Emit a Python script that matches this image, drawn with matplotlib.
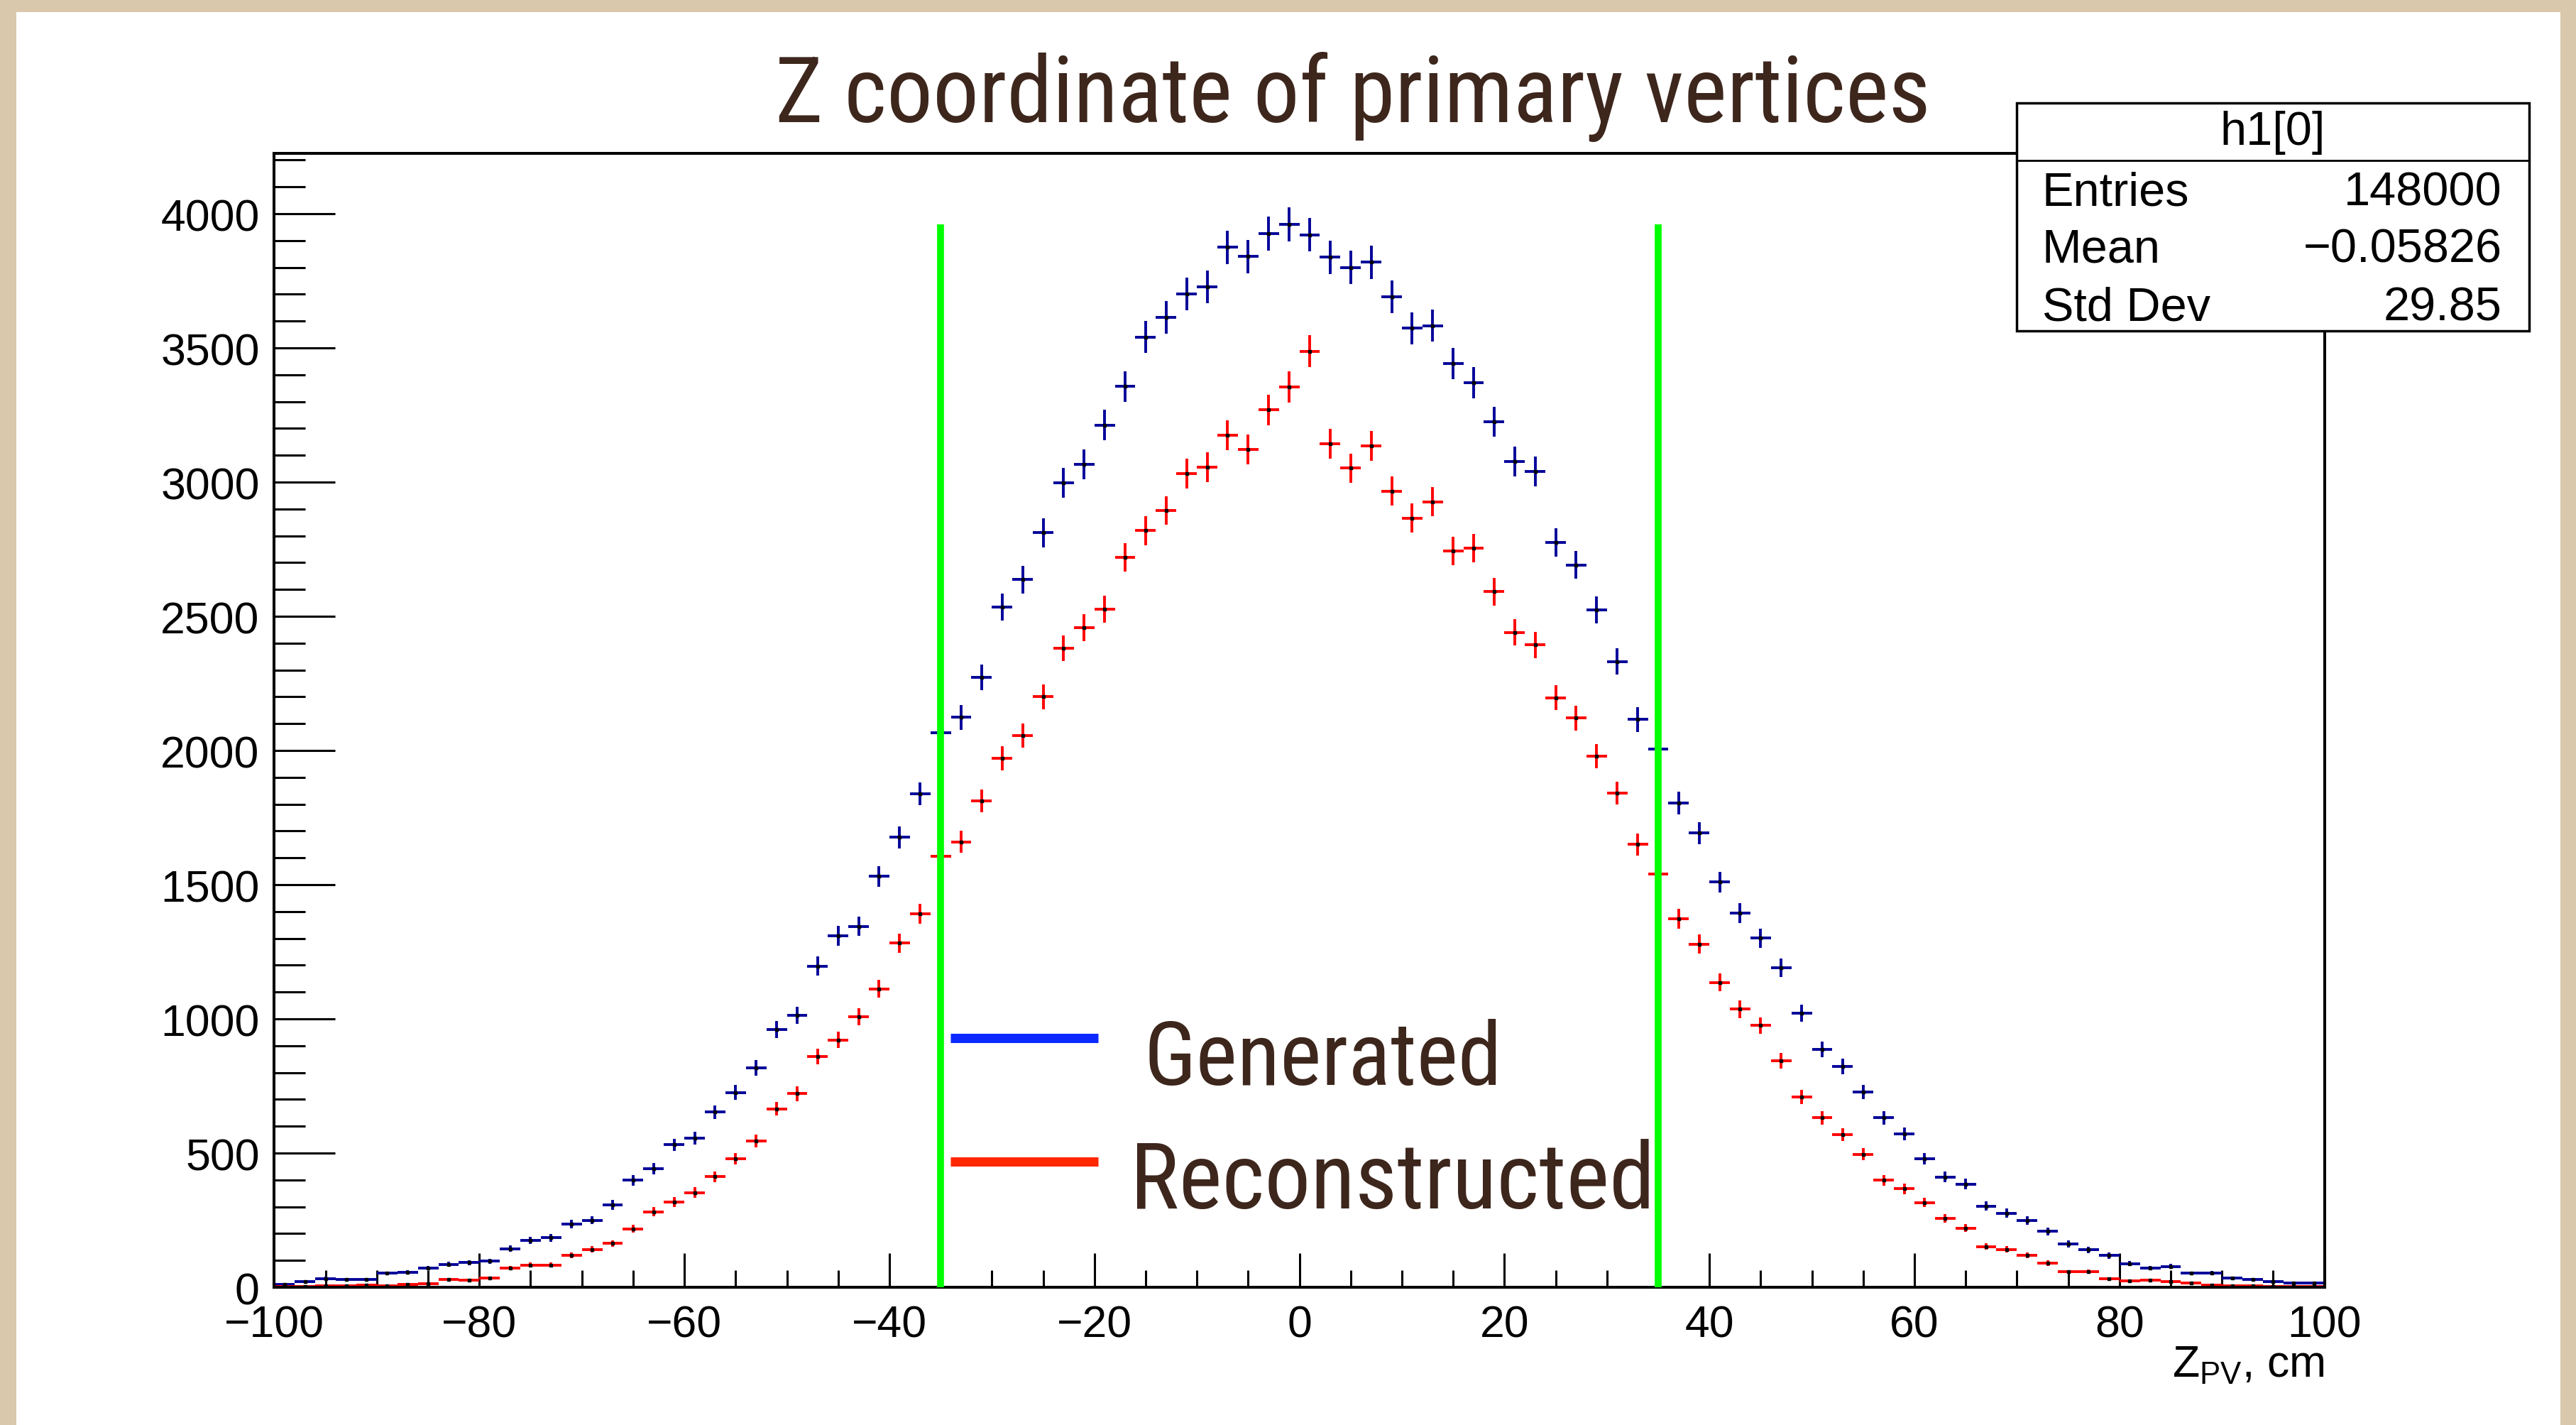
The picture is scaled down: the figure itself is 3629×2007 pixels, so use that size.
import numpy as np
import matplotlib
matplotlib.use('Agg')
import matplotlib.pyplot as plt
from matplotlib import font_manager
from matplotlib.patches import Rectangle
from matplotlib.lines import Line2D
from matplotlib.ticker import MultipleLocator

plt.rcParams['font.family'] = ['Liberation Sans', 'DejaVu Sans']
plt.rcParams['mathtext.fontset'] = 'custom'
plt.rcParams['mathtext.rm'] = 'Liberation Sans'

# bin centres of the 2 cm bins, -100..100 cm
z_centers = np.arange(-99, 100, 2)

generated = [11, 21, 33, 30, 28, 52, 55, 71, 86, 92,
             97, 143, 175, 184, 235, 250, 307, 399, 441, 531,
             555, 653, 726, 817, 960, 1014, 1197, 1310, 1345, 1531,
             1676, 1839, 2065, 2124, 2273, 2534, 2637, 2811, 2997, 3066,
             3213, 3356, 3541, 3614, 3700, 3727, 3875, 3841, 3926, 3961,
             3922, 3838, 3800, 3819, 3690, 3573, 3583, 3442, 3371, 3225,
             3077, 3040, 2776, 2691, 2523, 2332, 2116, 2006, 1804, 1693,
             1510, 1394, 1301, 1191, 1021, 886, 822, 727, 632, 571,
             479, 411, 384, 302, 276, 249, 208, 162, 140, 118,
             88, 72, 78, 52, 53, 35, 30, 21, 17, 15]

reconstructed = [3, 3, 4, 6, 7, 6, 10, 12, 28, 26,
                 34, 71, 83, 83, 119, 141, 163, 218, 281, 318,
                 353, 412, 479, 545, 665, 721, 859, 921, 1007, 1112,
                 1282, 1392, 1605, 1660, 1812, 1971, 2055, 2200, 2381, 2458,
                 2526, 2720, 2819, 2894, 3032, 3055, 3175, 3122, 3269, 3354,
                 3488, 3143, 3052, 3135, 2967, 2866, 2927, 2743, 2754, 2592,
                 2440, 2394, 2197, 2121, 1979, 1841, 1650, 1541, 1374, 1279,
                 1136, 1036, 975, 844, 709, 631, 569, 496, 399, 367,
                 316, 257, 220, 152, 141, 119, 90, 57, 59, 31,
                 24, 26, 22, 16, 9, 6, 4, 3, 3, 2]

cut_z = [-35, 35]
cut_top = 3960

title = 'Z coordinate of primary vertices'
legend_labels = ['Generated', 'Reconstructed']
stats_name = 'h1[0]'
stats_labels = ['Entries', 'Mean', 'Std Dev']
stats_values = ['148000', '\u22120.05826', '29.85']

W, H = 3630, 2008
brown = '#3d261c'

# no handwriting font here, take the narrowest installed one
installed = set(f.name for f in font_manager.fontManager.ttflist)
hand_font = 'Liberation Sans'
for name in ['Roboto Condensed', 'Open Sans Condensed', 'Liberation Sans Narrow', 'DejaVu Sans Condensed']:
    if name in installed:
        hand_font = name
        break


def fx(px):
    return px / W


def fy(py):
    return 1 - py / H


fig = plt.figure(figsize=(W / 100, H / 100), dpi=100, facecolor='#d9c8ab')
fig.add_artist(Rectangle((fx(23), 0), fx(3607 - 23), 1 - 18 / H, transform=fig.transFigure,
                         facecolor='white', edgecolor='none', zorder=-1))

ax = fig.add_axes([0.10647, 0.09661, 0.79562, 0.79532])

gen = np.array(generated)
rec = np.array(reconstructed)
ax.errorbar(z_centers, gen, xerr=1, yerr=np.sqrt(gen), fmt='s', ms=3.5, mfc='black', mec='black',
            ecolor='#000099', elinewidth=2.8, capsize=0, zorder=2)
ax.errorbar(z_centers, rec, xerr=1, yerr=np.sqrt(rec), fmt='s', ms=3.5, mfc='black', mec='black',
            ecolor='#ff0000', elinewidth=2.8, capsize=0, zorder=2)

ax.vlines(cut_z, 0, cut_top, colors='#00ff00', lw=7, zorder=3)

ax.set_xlim(-100, 100)
ax.set_ylim(0, 4225)
ax.xaxis.set_major_locator(MultipleLocator(20))
ax.xaxis.set_minor_locator(MultipleLocator(5))
ax.yaxis.set_major_locator(MultipleLocator(500))
ax.yaxis.set_minor_locator(MultipleLocator(100))
ax.tick_params(which='both', direction='in', top=False, right=False, width=2.2, labelsize=45)
ax.tick_params(axis='y', which='major', length=62, pad=15)
ax.tick_params(axis='y', which='minor', length=32)
ax.tick_params(axis='x', which='major', length=34.5, pad=17)
ax.tick_params(axis='x', which='minor', length=17)
for s in ax.spines.values():
    s.set_linewidth(2.9)

ax.text(1.0, -0.0789, r'Z$_{\mathrm{PV}}$, cm', transform=ax.transAxes, ha='right', va='baseline', fontsize=45)

# title and hand-drawn style legend, each squeezed to the reference width
hand_texts = []
t = fig.text(fx(1906), fy(172), title, ha='center', va='baseline', fontsize=100, color=brown, family=hand_font)
hand_texts.append((t, 1627))

leg_colors = ['#0a28ff', '#ff2800']
leg_line_y = [1463, 1637]
leg_text_pos = [(1612, 1528), (1592, 1702)]
leg_widths = [505, 740]
for lab, c, ly, (tx, ty), w in zip(legend_labels, leg_colors, leg_line_y, leg_text_pos, leg_widths):
    fig.add_artist(Line2D([fx(1339), fx(1547)], [fy(ly), fy(ly)], color=c, lw=9.4, solid_capstyle='butt'))
    t = fig.text(fx(tx), fy(ty), lab, ha='left', va='baseline', fontsize=100, color=brown, family=hand_font)
    hand_texts.append((t, w))

renderer = fig.canvas.get_renderer()
for t, w in hand_texts:
    cur = t.get_window_extent(renderer).width
    t.set_fontsize(min(100, 100 * w / cur))

# stats box
fig.add_artist(Rectangle((fx(2841), fy(467)), fx(3563 - 2841), (467 - 146) / H, transform=fig.transFigure,
                         facecolor='white', edgecolor='black', lw=2.5, zorder=5))
fig.add_artist(Line2D([fx(2841), fx(3563)], [fy(227), fy(227)], color='black', lw=2, zorder=6))
fig.text(fx(3202), fy(187), stats_name, ha='center', va='center', fontsize=48, zorder=7)
for lab, val, b in zip(stats_labels, stats_values, [290, 370, 452]):
    fig.text(fx(2877), fy(b), lab, ha='left', va='baseline', fontsize=48, zorder=7)
    fig.text(fx(3525), fy(b), val, ha='right', va='baseline', fontsize=48, zorder=7)

fig.savefig('out.png', dpi=100, facecolor=fig.get_facecolor())
